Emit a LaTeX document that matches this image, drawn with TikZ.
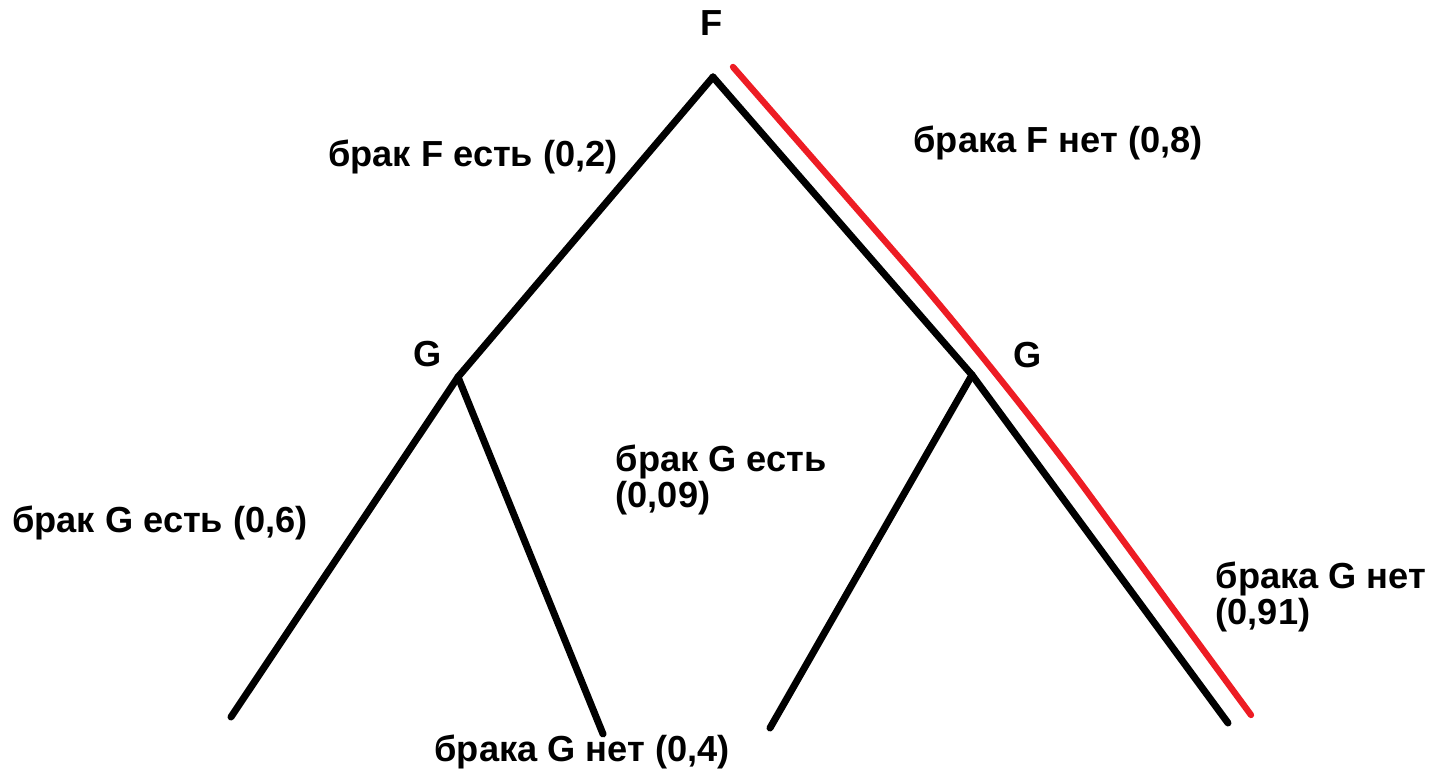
\documentclass[tikz,border=0pt]{standalone}
\usepackage{fontspec}
\setmainfont{Liberation Sans}
\definecolor{rojo}{RGB}{237,28,36}

\begin{document}
\begin{tikzpicture}[x=0.01cm,y=-0.01cm,
rama/.style={line width=2pt,line cap=round},
camino/.style={draw=rojo,line width=1.8pt,line cap=round,rounded corners=1.5cm},
etq/.style={font=\fontsize{10.3}{10}\selectfont\bfseries,align=left,inner sep=0pt}
]
\useasboundingbox (0,0) rectangle (1439,780);
% vertices del arbol
\coordinate (f) at (713,77);
\coordinate (g1) at (458,377);
\coordinate (g2) at (972,375);
\coordinate (h1) at (231,717);
\coordinate (h2) at (603,734);
\coordinate (h3) at (770,728);
\coordinate (h4) at (1228,723);
% camino rojo
\coordinate (r1) at (733,67);
\coordinate (r2) at (1000,373);
\coordinate (r3) at (1251,715);

\node[etq] (nf) at (712,23) {F};
\node[etq] (ng1) at (428,354) {G};
\node[etq] (ng2) at (1028,355) {G};

\node[etq] (bf) at (473,157) {брак F есть (0,2)};
\node[etq] (nbf) at (1058,143) {брака F нет (0,8)};
\node[etq] (bg1) at (160,523) {брак G есть (0,6)};
\node[etq,anchor=west] (bg2) at (615,480) {брак G есть\\(0,09)};
\node[etq] (nbg1) at (582,752) {брака G нет (0,4)};
\node[etq,anchor=west] (nbg2) at (1215,597) {брака G нет\\(0,91)};

\draw[camino] (r1)--(r2)--(r3);
\foreach \x in {g1,g2} \draw[rama] (f)--(\x);
\foreach \x in {h1,h2} \draw[rama] (g1)--(\x);
\foreach \x in {h3,h4} \draw[rama] (g2)--(\x);
\end{tikzpicture}
\end{document}
